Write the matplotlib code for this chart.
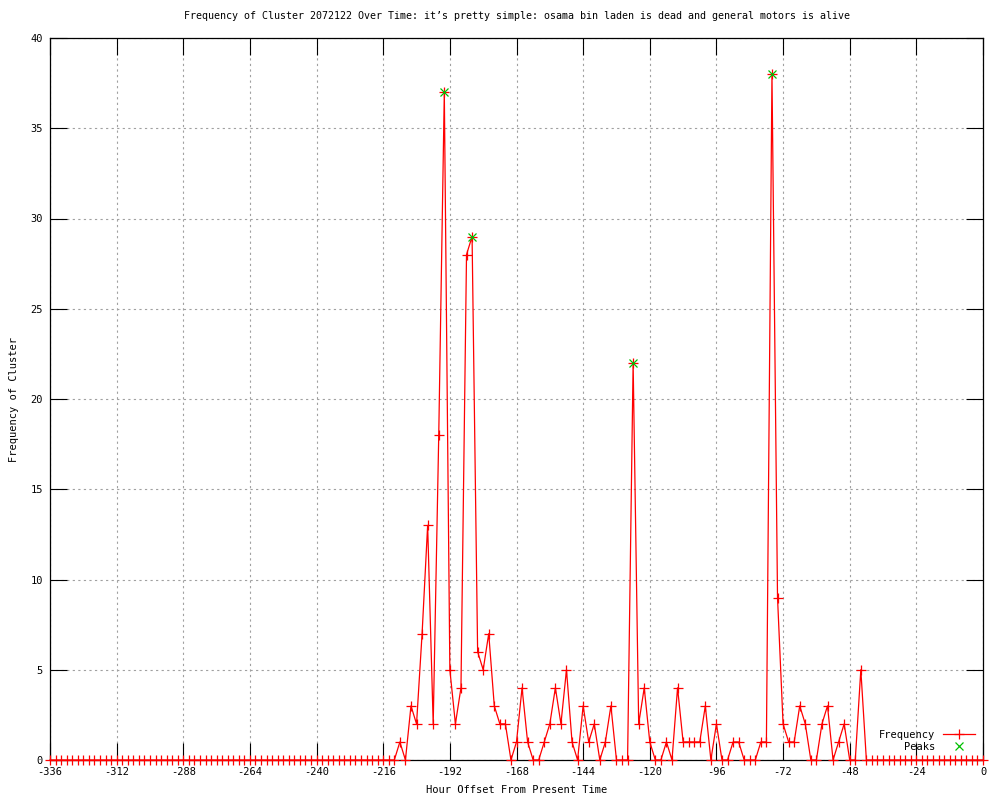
import numpy as np
import matplotlib
matplotlib.use("Agg")
import matplotlib.pyplot as plt

plt.rcParams['font.family'] = ['DejaVu Sans Mono']
plt.rcParams['axes.unicode_minus'] = False

# hour offsets, one sample every 2 hours
hours = np.arange(-336, 1, 2)

freq = [
    0, 0, 0, 0, 0, 0, 0, 0, 0, 0, 0, 0, 0, 0, 0, 0, 0, 0, 0, 0, 0, 0,    # -336 .. -294
    0, 0, 0, 0, 0, 0, 0, 0, 0, 0, 0, 0, 0, 0, 0, 0, 0, 0, 0, 0, 0,       # -292 .. -252
    0, 0, 0, 0, 0, 0, 0, 0, 0, 0, 0, 0, 0, 0, 0, 0, 0, 0, 0, 0,          # -250 .. -212
    1, 0, 3, 2, 7, 13, 2, 18, 37, 5, 2, 4, 28, 29, 6, 5, 7, 3, 2, 2,     # -210 .. -172
    0, 1, 4, 1, 0, 0, 1, 2, 4, 2, 5, 1, 0, 3, 1, 2, 0, 1, 3, 0,          # -170 .. -132
    0, 0, 22, 2, 4, 1, 0, 0, 1, 0, 4, 1, 1, 1, 1, 3, 0, 2, 0, 0,         # -130 .. -92
    1, 1, 0, 0, 0, 1, 1, 38, 9, 2, 1, 1, 3, 2, 0, 0, 2, 3, 0, 1,         # -90 .. -52
    2, 0, 0, 5, 0, 0, 0, 0, 0, 0, 0, 0, 0, 0, 0, 0, 0, 0, 0, 0,          # -50 .. -12
    0, 0, 0, 0, 0, 0,                                                    # -10 .. 0
]

peak_hours = [-194, -184, -126, -76]
peak_vals = [37, 29, 22, 38]

title = ("Frequency of Cluster 2072122 Over Time: it\u2019s pretty simple: "
         "osama bin laden is dead and general motors is alive")

fig = plt.figure(figsize=(10, 8), dpi=100)
ax = fig.add_axes([0.05, 0.05, 0.933, 0.9025])

ax.plot(hours, freq, color='#ff0000', lw=0.9, marker='+', ms=7, mew=0.9,
        label='Frequency', clip_on=False, zorder=3)
ax.plot(peak_hours, peak_vals, ls='none', color='#00c000', marker='x',
        ms=6, mew=0.9, label='Peaks', zorder=4)

ax.set_xlim(-336, 0)
ax.set_ylim(0, 40)
ax.set_xticks(np.arange(-336, 1, 24))
ax.set_yticks(np.arange(0, 41, 5))
ax.grid(True, color='#a0a0a0', ls=(0, (2, 3)), lw=0.8)
ax.tick_params(direction='in', length=12, width=0.8, top=True, right=True,
               labelsize=7.5, pad=5)
for s in ax.spines.values():
    s.set_linewidth(0.9)
    s.set_zorder(2)

ax.set_title(title, fontsize=7.2, pad=14)
ax.set_xlabel('Hour Offset From Present Time', fontsize=7.5, labelpad=6)
ax.set_ylabel('Frequency of Cluster', fontsize=7.5, labelpad=8)

leg = ax.legend(loc='lower right', frameon=False, markerfirst=False,
                fontsize=7.5, handlelength=3, labelspacing=0.2,
                borderaxespad=0.4)

fig.savefig('out.png', dpi=100)
